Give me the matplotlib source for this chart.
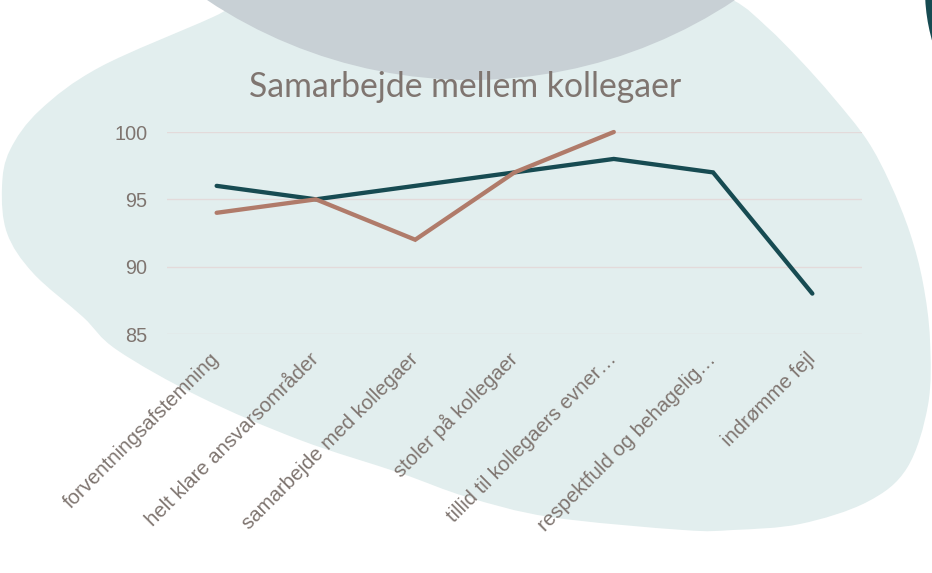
import numpy as np
import matplotlib
matplotlib.use("Agg")
import matplotlib.pyplot as plt
from matplotlib.path import Path
from matplotlib.patches import PathPatch, Circle

# ---------------- data ----------------
categories = [
    "forventningsafstemning",
    "helt klare ansvarsområder",
    "samarbejde med kollegaer",
    "stoler på kollegaer",
    "tillid til kollegaers evner…",
    "respektfuld og behagelig…",
    "indrømme fejl",
]
series_teal = [96, 95, 96, 97, 98, 97, 88]
series_brown = [94, 95, 92, 97, 100, np.nan, np.nan]
yticks = [85, 90, 95, 100]
title = "Samarbejde mellem kollegaer"

# ---------------- styles ----------------
W, H = 932, 573
TEAL = "#174B52"
BROWN = "#B07B6A"
TEXT = "#7F7570"
GRID = "#E3DADA"
BLOB = "#E2EEEE"
GRAY = "#C8D0D5"

fig = plt.figure(figsize=(W / 100, H / 100), dpi=100)
fig.patch.set_facecolor("white")

# background decoration in pixel coordinates
bg = fig.add_axes([0, 0, 1, 1], zorder=0)
bg.set_xlim(0, W)
bg.set_ylim(H, 0)
bg.axis("off")


def smooth_closed(points):
    P = np.asarray(points, dtype=float)
    n = len(P)
    verts = [P[0]]
    codes = [Path.MOVETO]
    for i in range(n):
        p0, p1, p2, p3 = P[i - 1], P[i], P[(i + 1) % n], P[(i + 2) % n]
        c1 = p1 + (p2 - p0) / 6.0
        c2 = p2 - (p3 - p1) / 6.0
        verts += [c1, c2, p2]
        codes += [Path.CURVE4] * 3
    verts.append(P[0])
    codes.append(Path.CLOSEPOLY)
    return Path(verts, codes)


blob_pts = [(2, 187), (10, 150), (40, 110), (100, 67), (213, 17), (290, -20),
            (470, -40), (670, -25), (733, 0), (767, 27), (800, 60), (833, 97),
            (867, 140), (890, 183), (910, 233), (923, 283), (930, 340),
            (928, 405), (907, 468), (867, 502), (800, 524), (733, 530),
            (683, 530), (550, 517), (467, 497), (400, 473), (300, 440),
            (200, 397), (117, 350), (83, 317), (33, 273), (7, 233)]
bg.add_patch(PathPatch(smooth_closed(blob_pts), facecolor=BLOB, edgecolor="none"))
bg.add_patch(Circle((471, -396), 476, facecolor=GRAY, edgecolor="none"))
bg.add_patch(Circle((1110, -10), 185, facecolor=TEAL, edgecolor="none"))

# main chart
ax = fig.add_axes([167 / W, (H - 334) / H, 695 / W, 202 / H], zorder=1)
ax.set_facecolor("none")
x = np.arange(len(categories))
ax.plot(x, series_teal, color=TEAL, lw=3.1, solid_capstyle="round",
        solid_joinstyle="miter", clip_on=False, zorder=3)
ax.plot(x, series_brown, color=BROWN, lw=3.1, solid_capstyle="round",
        solid_joinstyle="miter", clip_on=False, zorder=4)
ax.set_xlim(-0.5, len(categories) - 0.5)
ax.set_ylim(85, 100)
ax.set_yticks(yticks)
ax.set_xticks(x)
ax.set_xticklabels(categories, rotation=45, ha="right", va="center",
                   rotation_mode="anchor")
ax.tick_params(axis="y", length=0, pad=14, labelsize=14.3, labelcolor=TEXT)
ax.tick_params(axis="x", length=0, pad=16, labelsize=14.7, labelcolor=TEXT)
for lab in ax.get_xticklabels() + ax.get_yticklabels():
    lab.set_fontfamily(["Liberation Sans", "DejaVu Sans"])
ax.grid(axis="y", color=GRID, lw=1.0)
ax.set_axisbelow(True)
for s in ax.spines.values():
    s.set_visible(False)

fig.text(465 / W, 1 - 97 / H, title, ha="center", va="baseline",
         fontsize=24.3, color=TEXT, family=["Lato", "DejaVu Sans"])

fig.savefig("out.png", dpi=100)
